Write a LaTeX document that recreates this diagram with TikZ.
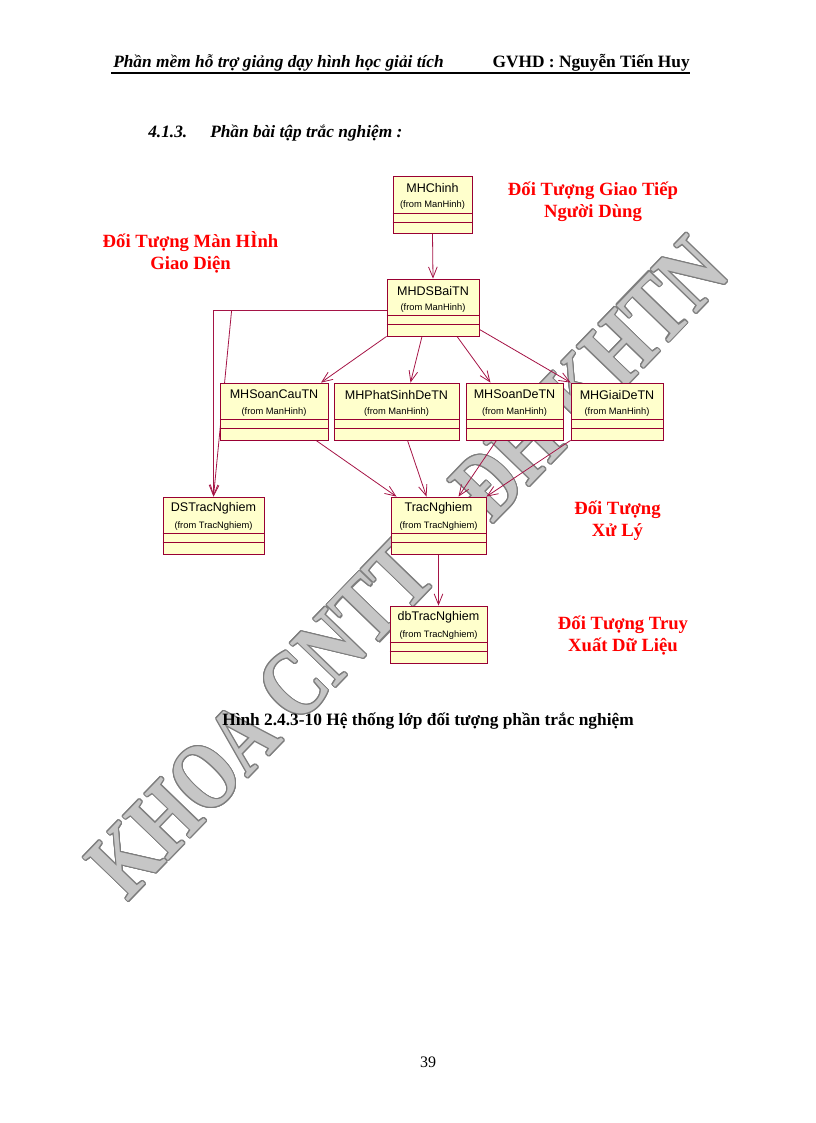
\documentclass[tikz,border=0pt]{standalone}
\usepackage{fontspec}
\setmainfont{Liberation Serif}
\newfontfamily\umlfont{Liberation Sans}
\usepackage{contour}
\contourlength{0.9pt}
\contournumber{16}
\usetikzlibrary{arrows.meta}

\definecolor{classedge}{RGB}{153,0,51}
\definecolor{classfill}{RGB}{255,255,204}
\definecolor{linkred}{RGB}{165,20,70}
\definecolor{notered}{RGB}{255,0,0}
\definecolor{wmfill}{RGB}{198,198,198}
\definecolor{wmedge}{RGB}{125,125,125}

\pgfdeclarelayer{wmlayer}
\pgfdeclarelayer{linklayer}
\pgfsetlayers{wmlayer,linklayer,main}

\tikzset{
  classbox/.style={draw=classedge, fill=classfill, line width=0.6pt,
    inner sep=0pt, minimum height=42.75pt},
  classname/.style={font=\umlfont\fontsize{9.4}{11}\selectfont, inner sep=0pt},
  classfrom/.style={font=\umlfont\fontsize{7}{8}\selectfont, inner sep=0pt},
  sepline/.style={draw=classedge, line width=0.6pt},
  link/.style={draw=linkred, line width=0.6pt,
    -{Straight Barb[length=8pt,width=6.5pt]}},
  note/.style={text=notered, font=\bfseries\fontsize{14}{16.5}\selectfont,
    align=center, inner sep=0pt},
  watermark/.style={text=wmfill, font=\bfseries\fontsize{72}{74}\selectfont,
    inner sep=0pt},
  pagetext/.style={inner sep=0pt, font=\bfseries\fontsize{13}{15}\selectfont},
}

\begin{document}
\begin{tikzpicture}[x=0.75pt, y=-0.75pt]

  \newcommand\umlclass[6]{%
    \node[classbox, minimum width=#4*0.75pt] (#1) at (#2,#3) {};
    \node[classname] (#1-name) at ([shift={(0,12)}]#1.north) {#5};
    \node[classfrom] (#1-pkg) at ([shift={(0,29)}]#1.north) {(from #6)};
    \draw[sepline] ([shift={(0,37)}]#1.north west) -- ([shift={(0,37)}]#1.north east);
    \draw[sepline] ([shift={(0,46)}]#1.north west) -- ([shift={(0,46)}]#1.north east);
  }

  \useasboundingbox (0,0) rectangle (816,1123);

  % page header
  \node[pagetext, anchor=base west, font=\bfseries\itshape\fontsize{13}{15}\selectfont]
    (headleft) at (113,68) {Phần mềm hỗ trợ giảng dạy hình học giải tích};
  \node[pagetext, anchor=base east] (headright) at (690,68) {GVHD : Nguyễn Tiến Huy};
  \draw[line width=1.1pt] ([shift={(-2,5)}]headleft.base west) -- ([shift={(0,5)}]headright.base east);

  \node[pagetext, anchor=base west, font=\bfseries\itshape\fontsize{13}{15}\selectfont]
    (secnum) at (148,138) {4.1.3.};
  \node[pagetext, anchor=base west, font=\bfseries\itshape\fontsize{13}{15}\selectfont]
    (sectitle) at (210,138) {Phần bài tập trắc nghiệm :};

  % classes
  \umlclass{MHChinh}{432.5}{205}{79}{MHChinh}{ManHinh}
  \umlclass{MHDSBaiTN}{433}{307.5}{92}{MHDSBaiTN}{ManHinh}
  \umlclass{MHSoanCauTN}{274}{411.5}{108}{MHSoanCauTN}{ManHinh}
  \umlclass{MHPhatSinhDeTN}{396.5}{411.5}{125}{MHPhatSinhDeTN}{ManHinh}
  \umlclass{MHSoanDeTN}{514.5}{411.5}{97}{MHSoanDeTN}{ManHinh}
  \umlclass{MHGiaiDeTN}{617}{411.5}{92}{MHGiaiDeTN}{ManHinh}
  \umlclass{DSTracNghiem}{213.5}{525.5}{101}{DSTracNghiem}{TracNghiem}
  \umlclass{TracNghiem}{438.5}{525.5}{95}{TracNghiem}{TracNghiem}
  \umlclass{dbTracNghiem}{438.5}{634.5}{97}{dbTracNghiem}{TracNghiem}

  % connectors
  \begin{pgfonlayer}{linklayer}
  \draw[link] (MHChinh.south) -- (MHDSBaiTN.north);
  \draw[link] (MHDSBaiTN.south west) -- ([shift={(47,0)}]MHSoanCauTN.north);
  \draw[link] ([shift={(-11,0)}]MHDSBaiTN.south) -- ([shift={(14,0)}]MHPhatSinhDeTN.north);
  \draw[link] ([shift={(24,0)}]MHDSBaiTN.south) -- ([shift={(-24,0)}]MHSoanDeTN.north);
  \draw[link] ([shift={(0,-7)}]MHDSBaiTN.south east) -- (MHGiaiDeTN.north west);
  \draw[link] ([shift={(0,3)}]MHDSBaiTN.west) -| (DSTracNghiem.north);
  \draw[link] ([shift={(0,3)}]MHDSBaiTN.west) -- ([shift={(-155,3)}]MHDSBaiTN.west)
    -- (DSTracNghiem.north);
  \draw[link] ([shift={(42,0)}]MHSoanCauTN.south) -- ([shift={(-42,0)}]TracNghiem.north);
  \draw[link] ([shift={(11,0)}]MHPhatSinhDeTN.south) -- ([shift={(-12,0)}]TracNghiem.north);
  \draw[link] ([shift={(-18,0)}]MHSoanDeTN.south) -- ([shift={(20,0)}]TracNghiem.north);
  \draw[link] (MHGiaiDeTN.south west) -- (TracNghiem.north east);
  \draw[link] (TracNghiem.south) -- (dbTracNghiem.north);
  \end{pgfonlayer}

  % watermark
  \begin{pgfonlayer}{wmlayer}
  \node[watermark, rotate=46, xscale=0.77] (wmark) at (408,568)
    {\contour{wmedge}{KHOA CNTT – ĐH KHTN}};
  \end{pgfonlayer}

  % group labels
  \node[note] (lblgiaotiep) at (593,202) {Đối Tượng Giao Tiếp\\Người Dùng};
  \node[note] (lblmanhinh) at (190.5,252.5) {Đối Tượng Màn HÌnh\\Giao Diện};
  \node[note] (lblxuly) at (617.5,521) {Đối Tượng\\Xử Lý};
  \node[note] (lbltruyxuat) at (623,636) {Đối Tượng Truy\\Xuất Dữ Liệu};

  \node[pagetext, anchor=base] (caption) at (428,725)
    {Hình 2.4.3-10 Hệ thống lớp đối tượng phần trắc nghiệm};
  \node[anchor=base, inner sep=0pt, font=\fontsize{12}{14}\selectfont] (pagenum) at (428,1067) {39};

\end{tikzpicture}
\end{document}
